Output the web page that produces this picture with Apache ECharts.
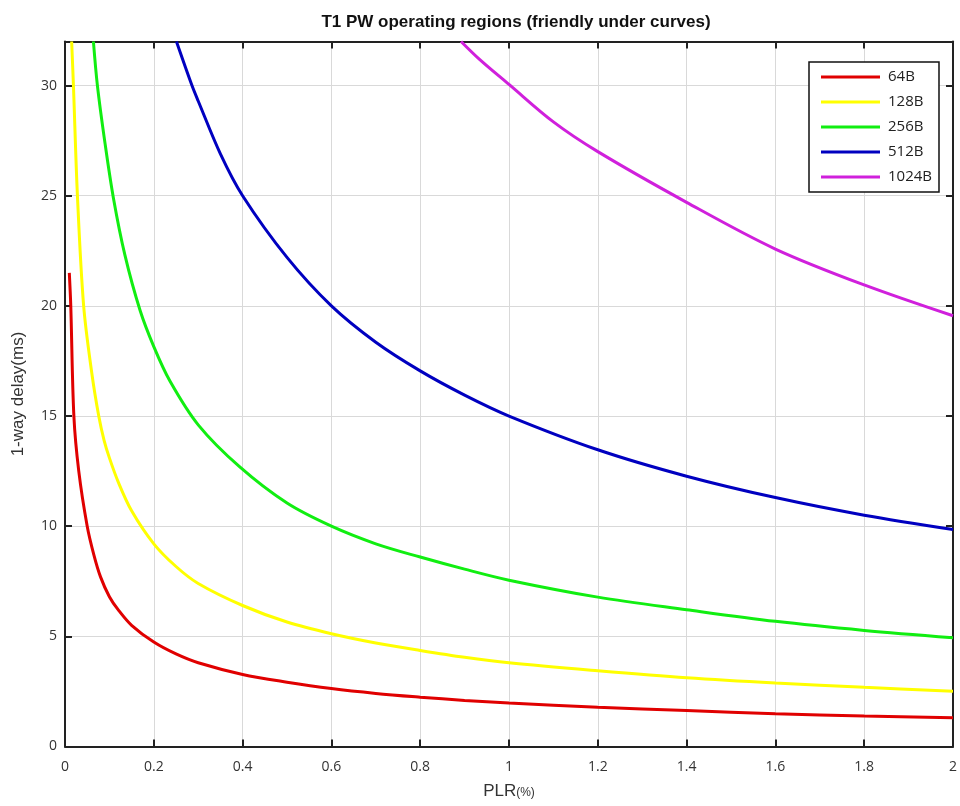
<!DOCTYPE html>
<html>
<head>
<meta charset="utf-8">
<script src="https://cdn.jsdelivr.net/npm/echarts@6/dist/echarts.min.js"></script>
<style>html,body{margin:0;padding:0;background:#fff;}#c{width:960px;height:806px;}</style>
</head>
<body>
<div id="c"></div>
<script>
const titleText = 'T1 PW operating regions (friendly under curves)';
const seriesNames = ['64B', '128B', '256B', '512B', '1024B'];
const xTicks = { min: 0, max: 2, interval: 0.2 };
const yTicks = { min: 0, max: 32, interval: 5 };

const d64 = [[0.0097,21.5],[0.013,20],[0.02,15],[0.031,12.5],[0.05,10],[0.065,8.7],[0.08,7.7],[0.1,6.8],[0.12,6.2],[0.15,5.5],[0.2,4.74],[0.25,4.2],[0.3,3.8],[0.4,3.27],[0.5,2.92],[0.6,2.63],[0.7,2.41],[0.8,2.24],[0.9,2.09],[1.0,1.97],[1.2,1.78],[1.4,1.63],[1.6,1.49],[1.8,1.38],[2.0,1.3]];
const d128 = [[0.015,32],[0.019,30],[0.028,25],[0.042,20],[0.06,17],[0.076,15],[0.088,13.9],[0.1,13.1],[0.12,12.0],[0.15,10.7],[0.2,9.2],[0.25,8.17],[0.3,7.4],[0.4,6.4],[0.5,5.65],[0.6,5.12],[0.7,4.7],[0.8,4.36],[0.9,4.05],[1.0,3.8],[1.2,3.44],[1.4,3.12],[1.6,2.88],[1.8,2.69],[2.0,2.51]];
const d256 = [[0.064,32],[0.073,30],[0.09,27.4],[0.109,24.9],[0.135,22.3],[0.169,19.8],[0.2,18.15],[0.236,16.6],[0.3,14.6],[0.393,12.7],[0.5,11.05],[0.6,10.0],[0.7,9.2],[0.8,8.6],[0.9,8.05],[1.0,7.55],[1.2,6.78],[1.4,6.21],[1.6,5.68],[1.8,5.27],[2.0,4.94]];
const d512 = [[0.251,32],[0.286,30],[0.3,29.3],[0.35,26.9],[0.4,25],[0.5,22.2],[0.6,20],[0.7,18.35],[0.8,17.05],[0.9,15.95],[1.0,15.0],[1.2,13.47],[1.4,12.27],[1.6,11.3],[1.8,10.5],[2.0,9.85]];
const d1024 = [[0.892,32],[0.933,31.2],[1.0,30.05],[1.1,28.35],[1.2,27.0],[1.4,24.7],[1.6,22.58],[1.8,20.95],[2.0,19.55]];

const seriesData = [d64, d128, d256, d512, d1024];
const colors = ['#e00000', '#ffff00', '#11ee11', '#0000c0', '#d020dc'];

const chart = echarts.init(document.getElementById('c'), null, {renderer: 'canvas'});
const axisLineStyle = { color: '#222', width: 2 };
const labelFont = { fontFamily: 'Open Sans', fontSize: 14, color: '#333' };

const option = {
  backgroundColor: '#fff',
  animation: false,
  title: {
    text: titleText,
    left: 511, top: 9, textAlign: 'center',
    textStyle: { fontFamily: 'Liberation Sans', fontWeight: 'bold', fontSize: 17, color: '#111' }
  },
  grid: { left: 65, right: 3.5, top: 41.5, bottom: 59.5, containLabel: false },
  legend: {
    orient: 'vertical', left: 809, top: 62,
    backgroundColor: '#fff', borderColor: '#111', borderWidth: 1.5, borderRadius: 0,
    padding: [7, 7, 7, 12],
    itemWidth: 59, itemHeight: 3, itemGap: 9,
    icon: 'rect',
    textStyle: { fontFamily: 'Open Sans', fontSize: 15, color: '#222', lineHeight: 16, padding: [0,0,0,3] },
    data: seriesNames
  },
  xAxis: [
    {
      type: 'value', min: xTicks.min, max: xTicks.max, interval: xTicks.interval,
      position: 'bottom',
      name: '{a|PLR}{b|(%)}', nameLocation: 'middle', nameGap: 36,
      nameTextStyle: { rich: { a: { fontFamily: 'Liberation Sans', fontSize: 17, color: '#333' }, b: { fontFamily: 'Liberation Sans', fontSize: 12, color: '#333', padding: [4,0,0,0] } } },
      axisLine: { show: true, lineStyle: axisLineStyle, onZero: false },
      axisTick: { show: true, inside: true, length: 7, lineStyle: axisLineStyle },
      axisLabel: Object.assign({ margin: 14 }, labelFont),
      splitLine: { show: true, lineStyle: { color: '#d9d9d9', width: 1 } }
    },
    {
      type: 'value', min: xTicks.min, max: xTicks.max, interval: xTicks.interval,
      position: 'top',
      axisLine: { show: true, lineStyle: axisLineStyle, onZero: false },
      axisTick: { show: true, inside: true, length: 7, lineStyle: axisLineStyle },
      axisLabel: { show: false },
      splitLine: { show: false }
    }
  ],
  yAxis: [
    {
      type: 'value', min: yTicks.min, max: yTicks.max, interval: yTicks.interval,
      position: 'left',
      name: '1-way delay(ms)', nameLocation: 'middle', nameGap: 38, nameRotate: 90,
      nameTextStyle: { fontFamily: 'Liberation Sans', fontSize: 17, color: '#333' },
      axisLine: { show: true, lineStyle: axisLineStyle, onZero: false },
      axisTick: { show: true, inside: true, length: 7, lineStyle: axisLineStyle },
      axisLabel: Object.assign({ margin: 8, showMaxLabel: false }, labelFont),
      splitLine: { show: true, lineStyle: { color: '#d9d9d9', width: 1 } }
    },
    {
      type: 'value', min: yTicks.min, max: yTicks.max, interval: yTicks.interval,
      position: 'right',
      axisLine: { show: true, lineStyle: axisLineStyle, onZero: false },
      axisTick: { show: true, inside: true, length: 7, lineStyle: axisLineStyle },
      axisLabel: { show: false },
      splitLine: { show: false }
    }
  ],
  series: seriesNames.map((n, i) => ({
    name: n, type: 'line', xAxisIndex: 0, yAxisIndex: 0,
    data: seriesData[i], showSymbol: false, symbol: 'none',
    smooth: 0.33, clip: true,
    lineStyle: { color: colors[i], width: 3 },
    itemStyle: { color: colors[i] }
  }))
};
chart.setOption(option);
</script>
</body>
</html>
